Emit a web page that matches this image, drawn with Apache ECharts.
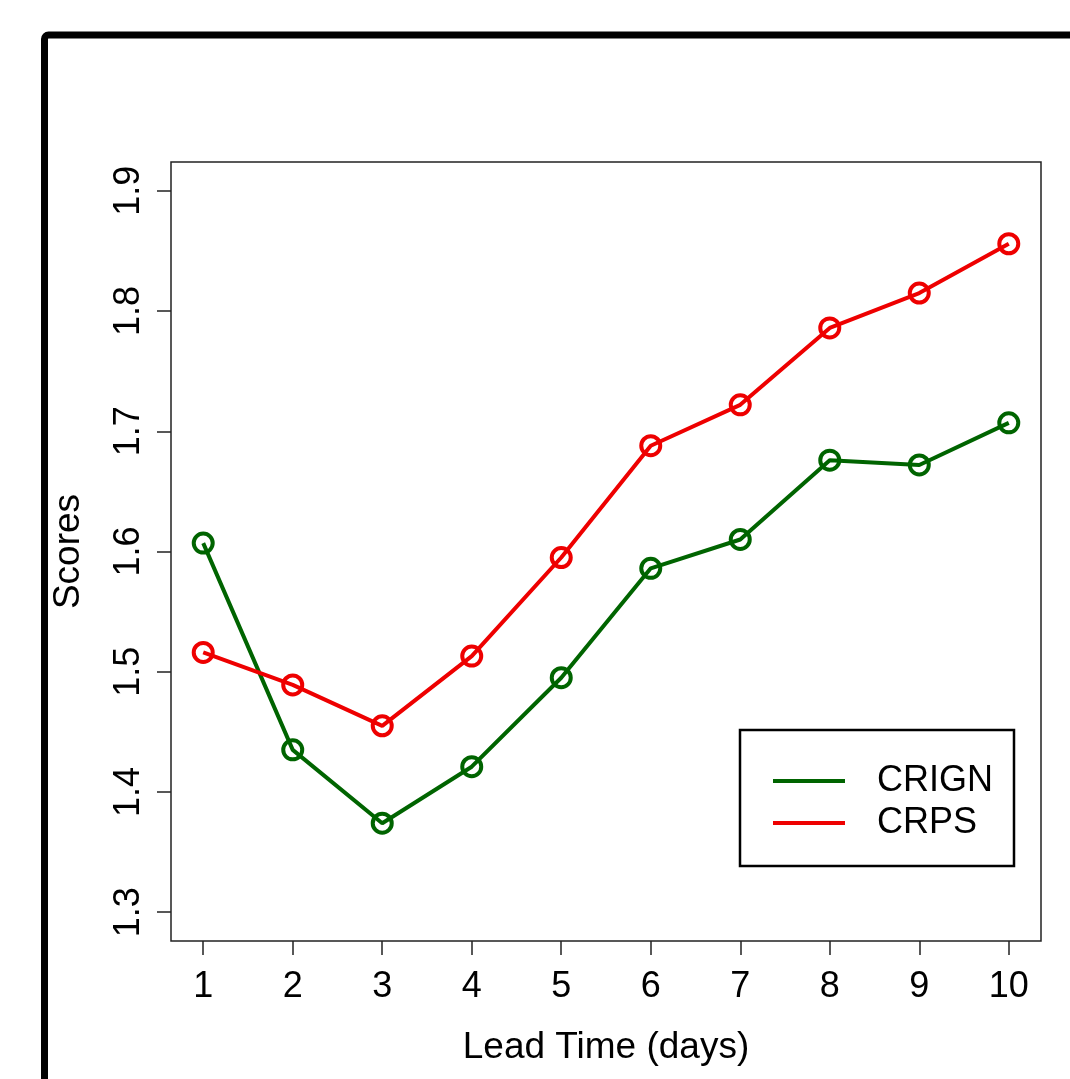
<!DOCTYPE html>
<html>
<head>
<meta charset="utf-8">
<script src="https://cdn.jsdelivr.net/npm/echarts@6/dist/echarts.min.js"></script>
<style>
  html, body { margin: 0; padding: 0; background: #fff; }
  #chart { width: 1070px; height: 1079px; }
</style>
</head>
<body>
<div id="chart"></div>
<script>
// lead time in days
const leadTimes = [1, 2, 3, 4, 5, 6, 7, 8, 9, 10];
const crign = [1.607, 1.435, 1.374, 1.421, 1.495, 1.586, 1.610, 1.676, 1.672, 1.707];
const crps = [1.516, 1.489, 1.455, 1.513, 1.595, 1.688, 1.722, 1.786, 1.815, 1.856];
const yTicks = [1.3, 1.4, 1.5, 1.6, 1.7, 1.8, 1.9];

const GREEN = '#006400';
const RED = '#ee0000';
const FONT = 'Liberation Sans, Arial, sans-serif';

const chart = echarts.init(document.getElementById('chart'));

function lineSeries(name, values, color) {
  return {
    name: name,
    type: 'line',
    data: leadTimes.map((t, i) => [t, values[i]]),
    symbol: 'circle',
    symbolSize: 19,
    lineStyle: { color: color, width: 4 },
    itemStyle: { color: 'rgba(0,0,0,0)', borderColor: color, borderWidth: 4 },
    emphasis: { disabled: true },
    z: 3
  };
}

const option = {
  animation: false,
  backgroundColor: '#fff',
  textStyle: { fontFamily: FONT },
  grid: {
    left: 171, top: 162, right: 29, bottom: 138,
    show: true, borderColor: '#222', borderWidth: 1.5
  },
  xAxis: {
    type: 'value',
    min: 0.64, max: 10.36,
    name: 'Lead Time (days)',
    nameLocation: 'middle',
    nameGap: 88,
    nameTextStyle: { fontSize: 37, color: '#000', fontFamily: FONT },
    axisLine: { show: false },
    splitLine: { show: false },
    axisTick: { show: true, length: 14, customValues: leadTimes, lineStyle: { color: '#222', width: 1.5 } },
    axisLabel: { customValues: leadTimes, fontSize: 36, color: '#000', margin: 28, fontFamily: FONT }
  },
  yAxis: {
    type: 'value',
    min: 1.276, max: 1.924,
    name: 'Scores',
    nameLocation: 'middle',
    nameGap: 84,
    nameRotate: 90,
    nameTextStyle: { fontSize: 37, color: '#000', fontFamily: FONT },
    axisLine: { show: false },
    splitLine: { show: false },
    axisTick: { show: true, length: 14, customValues: yTicks, lineStyle: { color: '#222', width: 1.5 } },
    axisLabel: {
      customValues: yTicks, rotate: 90, fontSize: 36, color: '#000', margin: 24, fontFamily: FONT,
      formatter: v => v.toFixed(1)
    }
  },
  legend: {
    left: 740, top: 730,
    orient: 'vertical',
    backgroundColor: '#fff',
    borderColor: '#000', borderWidth: 2.5,
    padding: [30, 21, 22, 33],
    itemWidth: 72, itemHeight: 4, itemGap: 0,
    icon: 'rect',
    selectedMode: false,
    textStyle: { fontSize: 36, color: '#000', lineHeight: 42, padding: [0, 0, 0, 27], fontFamily: FONT },
    data: [
      { name: 'CRIGN', itemStyle: { color: GREEN, borderWidth: 0 } },
      { name: 'CRPS', itemStyle: { color: RED, borderWidth: 0 } }
    ]
  },
  graphic: [{
    type: 'rect',
    shape: { x: 44.5, y: 35, width: 2000, height: 2000, r: 4 },
    style: { fill: 'none', stroke: '#000', lineWidth: 7 },
    silent: true
  }],
  series: [
    lineSeries('CRIGN', crign, GREEN),
    lineSeries('CRPS', crps, RED)
  ]
};

chart.setOption(option);
</script>
</body>
</html>
